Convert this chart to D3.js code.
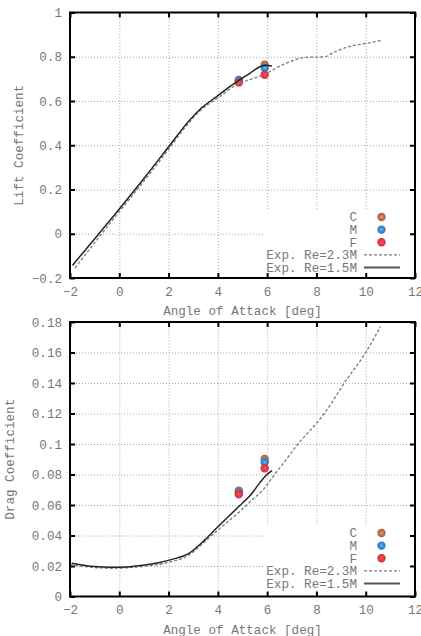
<!DOCTYPE html>
<html><head><meta charset="utf-8">
<script src="https://cdn.jsdelivr.net/npm/d3@7"></script>
<style>
html,body{margin:0;padding:0;background:#fff;}
svg{display:block;}
text{font-family:"Liberation Mono","DejaVu Sans Mono",monospace;fill:#777;}
</style></head>
<body>
<svg id="chart" width="421" height="636"></svg>
<script>
// ---- data ----
const xTicks = [-2, 0, 2, 4, 6, 8, 10, 12];
const liftTicks = [-0.2, 0, 0.2, 0.4, 0.6, 0.8, 1];
const liftTickLabels = ["\u22120.2", "0", "0.2", "0.4", "0.6", "0.8", "1"];
const dragTicks = [0, 0.02, 0.04, 0.06, 0.08, 0.1, 0.12, 0.14, 0.16, 0.18];
const dragTickLabels = ["0", "0.02", "0.04", "0.06", "0.08", "0.1", "0.12", "0.14", "0.16", "0.18"];
const xTickLabels = ["\u22122", "0", "2", "4", "6", "8", "10", "12"];

const simAlpha = [4.85, 5.9];
const liftC = [0.692, 0.764];
const liftM = [0.695, 0.749];
const liftF = [0.684, 0.719];
const dragC = [0.0694, 0.0902];
const dragM = [0.0683, 0.0880];
const dragF = [0.0670, 0.0841];

const liftAlpha15 = [-1.9, 0, 1, 2.05, 2.75, 3.3, 3.95, 4.6, 4.9, 5.3, 5.7, 5.95, 6.2];
const lift15 = [-0.143, 0.112, 0.25, 0.4, 0.5, 0.565, 0.62, 0.674, 0.697, 0.725, 0.755, 0.762, 0.758];
const liftAlpha23 = [-1.8, 0, 1, 2, 2.7, 3.3, 3.95, 4.85, 5.3, 5.95, 6.35, 6.8, 7.55, 8.35, 8.65, 9.3, 10.0, 10.6];
const lift23 = [-0.155, 0.1, 0.238, 0.382, 0.485, 0.558, 0.61, 0.678, 0.697, 0.723, 0.748, 0.772, 0.797, 0.80, 0.817, 0.845, 0.86, 0.873];

const dragAlpha15 = [-1.93, -1.0, -0.38, 0.3, 0.96, 1.6, 2.18, 2.79, 3.4, 3.94, 4.4, 4.88, 5.3, 5.7, 5.96, 6.2];
const drag15 = [0.0218, 0.0196, 0.0191, 0.0194, 0.0205, 0.0222, 0.0245, 0.0279, 0.036, 0.0447, 0.052, 0.0595, 0.066, 0.0745, 0.0795, 0.0825];
const dragAlpha23 = [-2.0, -1.0, -0.4, 0.3, 1.0, 1.6, 2.2, 2.6, 3.0, 3.4, 4.0, 4.88, 5.4, 5.83, 6.23, 6.64, 7.25, 8.0, 8.32, 9.13, 10.0, 10.6];
const drag23 = [0.021, 0.019, 0.0185, 0.0188, 0.0198, 0.021, 0.0232, 0.0252, 0.0292, 0.035, 0.0435, 0.0556, 0.0635, 0.0698, 0.0785, 0.087, 0.10, 0.1136, 0.12, 0.14, 0.16, 0.177];

const legendNames = ["C", "M", "F"];
const seriesColors = ["#c4734b", "#3a8ed6", "#ee3b46"];
const lineNames = ["Exp. Re=2.3M", "Exp. Re=1.5M"];

// ---- drawing ----
const svg = d3.select("#chart");
const FS = 12.6;

function panel(opt) {
  const {top, bottom, left, right, yDomain, yTicks, yLabels, yTitle, yTitleX,
         sims, exp, legendBox} = opt;
  const x = d3.scaleLinear().domain([-2, 12]).range([left, right]);
  const y = d3.scaleLinear().domain(yDomain).range([bottom, top]);
  const g = svg.append("g");
  const W = right - left, H = bottom - top;

  // grid
  const gridStyle = s => s.selectAll("line").attr("stroke", "#a8a8a8").attr("stroke-width", 1).attr("stroke-dasharray", "1,2");
  const gx = g.append("g").attr("transform", `translate(0,${bottom})`)
    .call(d3.axisBottom(x).tickValues(xTicks.slice(1, -1)).tickSize(-H).tickFormat(""));
  gx.select(".domain").remove(); gridStyle(gx);
  const gy = g.append("g").attr("transform", `translate(${left},0)`)
    .call(d3.axisLeft(y).tickValues(yTicks.slice(1, -1)).tickSize(-W).tickFormat(""));
  gy.select(".domain").remove(); gridStyle(gy);

  // legend background
  g.append("rect").attr("x", legendBox[0]).attr("y", legendBox[1])
    .attr("width", right - 2 - legendBox[0]).attr("height", bottom - 1 - legendBox[1]).attr("fill", "#fff");

  // axes with inward ticks
  const tickStyle = s => { s.select(".domain").remove(); s.selectAll(".tick line").attr("stroke", "#000").attr("stroke-width", 2); };
  const ab = g.append("g").attr("transform", `translate(0,${bottom})`)
    .call(d3.axisBottom(x).tickValues(xTicks).tickSize(-5).tickPadding(9).tickFormat((d, i) => xTickLabels[i]));
  tickStyle(ab);
  ab.selectAll("text").attr("font-size", FS).attr("fill", "#777").attr("font-family", "Liberation Mono");
  const at = g.append("g").attr("transform", `translate(0,${top})`)
    .call(d3.axisTop(x).tickValues(xTicks).tickSize(-5).tickFormat(""));
  tickStyle(at);
  const al = g.append("g").attr("transform", `translate(${left},0)`)
    .call(d3.axisLeft(y).tickValues(yTicks).tickSize(-5).tickPadding(8).tickFormat((d, i) => yLabels[i]));
  tickStyle(al);
  al.selectAll("text").attr("font-size", FS).attr("fill", "#777").attr("font-family", "Liberation Mono");
  const ar = g.append("g").attr("transform", `translate(${right},0)`)
    .call(d3.axisRight(y).tickValues(yTicks).tickSize(-5).tickFormat(""));
  tickStyle(ar);

  // titles
  g.append("text").attr("x", (left + right) / 2).attr("y", bottom + 37).attr("text-anchor", "middle")
    .attr("font-size", FS).text("Angle of Attack [deg]");
  g.append("text").attr("transform", `translate(${yTitleX},${(top + bottom) / 2}) rotate(-90)`)
    .attr("text-anchor", "middle").attr("font-size", FS).text(yTitle);

  // sim points
  const drawPt = (cx, cy, col) => {
    g.append("circle").attr("cx", cx).attr("cy", cy).attr("r", 3.6)
      .attr("fill", col).attr("stroke", d3.color(col).darker(0.4)).attr("stroke-width", 1.2);
    g.append("circle").attr("cx", cx).attr("cy", cy).attr("r", 1.1)
      .attr("fill", d3.color(col).brighter(1.2)).attr("opacity", 0.8);
  };
  sims.forEach((vals, k) => {
    simAlpha.forEach((a, i) => drawPt(x(a), y(vals[i]), seriesColors[k]));
  });

  // experimental lines
  const line = (xs, ys) => d3.line().x((d, i) => x(xs[i])).y((d, i) => y(ys[i])).curve(d3.curveMonotoneX)(ys);
  g.append("path").attr("d", line(exp.a23, exp.v23)).attr("fill", "none")
    .attr("stroke", "#7a7a7a").attr("stroke-width", 1.3).attr("stroke-dasharray", "3,2");
  g.append("path").attr("d", line(exp.a15, exp.v15)).attr("fill", "none")
    .attr("stroke", "#222").attr("stroke-width", 1.5);

  // legend
  const ly0 = legendBox[1] + 7, dy = 12.6;
  legendNames.forEach((n, k) => {
    g.append("text").attr("x", 357).attr("y", ly0 + k * dy).attr("dy", "0.35em").attr("text-anchor", "end")
      .attr("font-size", FS).text(n);
    drawPt(381.5, ly0 + k * dy, seriesColors[k]);
  });
  lineNames.forEach((n, k) => {
    const yy = ly0 + (3 + k) * dy;
    g.append("text").attr("x", 357).attr("y", yy).attr("dy", "0.35em").attr("text-anchor", "end")
      .attr("font-size", FS).text(n);
    g.append("line").attr("x1", 364).attr("x2", 400).attr("y1", yy).attr("y2", yy)
      .attr("stroke", k === 0 ? "#7a7a7a" : "#555").attr("stroke-width", k === 0 ? 1.3 : 2)
      .attr("stroke-dasharray", k === 0 ? "3,2" : null);
  });

  // border
  g.append("rect").attr("x", left).attr("y", top).attr("width", W).attr("height", H)
    .attr("fill", "none").attr("stroke", "#000").attr("stroke-width", 2);
}

panel({top: 12.5, bottom: 278, left: 70, right: 415, yDomain: [-0.2, 1],
  yTicks: liftTicks, yLabels: liftTickLabels, yTitle: "Lift Coefficient", yTitleX: 23,
  sims: [liftC, liftM, liftF],
  exp: {a15: liftAlpha15, v15: lift15, a23: liftAlpha23, v23: lift23},
  legendBox: [265, 210]});

panel({top: 322, bottom: 596.5, left: 70, right: 415, yDomain: [0, 0.18],
  yTicks: dragTicks, yLabels: dragTickLabels, yTitle: "Drag Coefficient", yTitleX: 14,
  sims: [dragC, dragM, dragF],
  exp: {a15: dragAlpha15, v15: drag15, a23: dragAlpha23, v23: drag23},
  legendBox: [263, 526]});
</script>
</body></html>
